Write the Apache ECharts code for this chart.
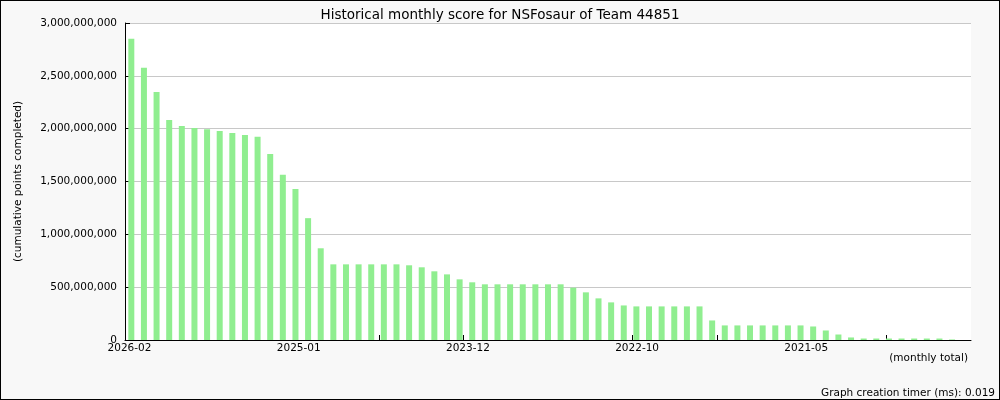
<!DOCTYPE html>
<html>
<head>
<meta charset="utf-8">
<script src="https://cdn.jsdelivr.net/npm/echarts@6/dist/echarts.min.js"></script>
<style>
html,body{margin:0;padding:0;background:#f8f8f8;}
#frame{width:1000px;height:400px;box-sizing:border-box;border:1px solid #000;position:relative;background:#f8f8f8;}
#chart{position:absolute;left:-1px;top:-1px;width:1000px;height:400px;}
</style>
</head>
<body>
<div id="frame"><div id="chart"></div></div>
<script>
// Month categories (newest first)
const months = [
  '2026-02','2026-01','2025-12','2025-11','2025-10','2025-09','2025-08','2025-07','2025-06','2025-05',
  '2025-04','2025-03','2025-02','2025-01','2024-12','2024-11','2024-10','2024-09','2024-08','2024-07',
  '2024-06','2024-05','2024-04','2024-03','2024-02','2024-01','2023-12','2023-11','2023-10','2023-09',
  '2023-08','2023-07','2023-06','2023-05','2023-04','2023-03','2023-02','2023-01','2022-12','2022-11',
  '2022-10','2022-09','2022-08','2022-07','2022-06','2022-05','2022-04','2022-03','2022-01','2021-11',
  '2021-09','2021-07','2021-06','2021-05','2021-04','2021-03','2021-02','2021-01','2020-12','2020-11',
  '2020-10','2020-09','2020-08','2020-07','2020-06','2020-05'
];
// Cumulative points completed
const scores = [
  2851e6, 2576e6, 2348e6, 2083e6, 2026e6, 2007e6, 1994e6, 1978e6, 1959e6, 1940e6,
  1924e6, 1760e6, 1564e6, 1428e6, 1153e6, 868e6, 716e6, 716e6, 716e6, 716e6,
  716e6, 716e6, 707e6, 688e6, 650e6, 621e6, 574e6, 546e6, 527e6, 527e6,
  527e6, 527e6, 527e6, 527e6, 527e6, 495e6, 451e6, 394e6, 356e6, 327e6,
  318e6, 318e6, 318e6, 318e6, 318e6, 318e6, 185e6, 138e6, 138e6, 138e6,
  138e6, 138e6, 138e6, 138e6, 128e6, 90e6, 52e6, 24e6, 14e6, 14e6,
  14e6, 14e6, 14e6, 14e6, 14e6, 5e6
];
const yTicks = [0, 5e8, 1e9, 1.5e9, 2e9, 2.5e9, 3e9];
const titleText = 'Historical monthly score for NSFosaur of Team 44851';
const yName = '(cumulative points completed)';
const xName = '(monthly total)';
const footer = 'Graph creation timer (ms): 0.019';

const slotCount = months.length + 1;
const tickStep = slotCount / 10;
const xTickValues = [0, 1, 2, 3, 4, 5, 6, 7, 8, 9].map(function (k) { return k * tickStep; });
const xLabelValues = xTickValues.filter(function (v, k) { return k % 2 === 0; });
const FONT = 'DejaVu Sans';

const chart = echarts.init(document.getElementById('chart'), null, {renderer: 'canvas'});
chart.setOption({
  backgroundColor: 'transparent',
  animation: false,
  textStyle: {fontFamily: FONT},
  title: {
    text: titleText, left: 'center', top: 3,
    textStyle: {fontFamily: FONT, fontSize: 13.5, fontWeight: 'normal', color: '#000'}
  },
  grid: {left: 125, right: 29, top: 23, bottom: 60, show: true, backgroundColor: '#fff', borderWidth: 0, containLabel: false},
  xAxis: {
    type: 'value', min: 0, max: slotCount, interval: tickStep,
    axisLine: {show: true, onZero: false, lineStyle: {color: '#000', width: 1}},
    axisTick: {show: true, inside: true, length: 5, lineStyle: {color: '#000'}, customValues: xTickValues},
    splitLine: {show: false},
    axisLabel: {
      show: true, margin: 3, customValues: xLabelValues,
      fontFamily: FONT, fontSize: 10.5, color: '#000', padding: [0, 0, 0, 9],
      formatter: function (v) {
        const idx = Math.floor(v + 1e-6);
        return months[idx] || '';
      }
    }
  },
  yAxis: {
    type: 'value', min: yTicks[0], max: yTicks[yTicks.length - 1], interval: yTicks[1] - yTicks[0],
    axisLine: {show: true, lineStyle: {color: '#000', width: 1}},
    axisTick: {show: true, inside: true, length: 5, lineStyle: {color: '#000'}},
    splitLine: {show: true, lineStyle: {color: '#c8c8c8', width: 1}},
    axisLabel: {
      margin: 8, fontFamily: FONT, fontSize: 10.5, color: '#000',
      formatter: function (v) { return Number(v).toLocaleString('en-US'); }
    }
  },
  series: [{
    type: 'bar',
    barWidth: 6,
    itemStyle: {color: '#90ee90'},
    data: scores.map(function (s, i) { return [i + 0.5, s]; })
  }],
  graphic: [
    {type: 'text', x: 18, y: 181.5, rotation: Math.PI / 2,
     style: {text: yName, fontFamily: FONT, fontSize: 10.5, fill: '#000', align: 'center', verticalAlign: 'middle'}},
    {type: 'text', x: 968, y: 358,
     style: {text: xName, fontFamily: FONT, fontSize: 10.5, fill: '#000', align: 'right', verticalAlign: 'middle'}},
    {type: 'text', x: 995, y: 393,
     style: {text: footer, fontFamily: FONT, fontSize: 10.5, fill: '#000', align: 'right', verticalAlign: 'middle'}}
  ]
});
</script>
</body>
</html>
